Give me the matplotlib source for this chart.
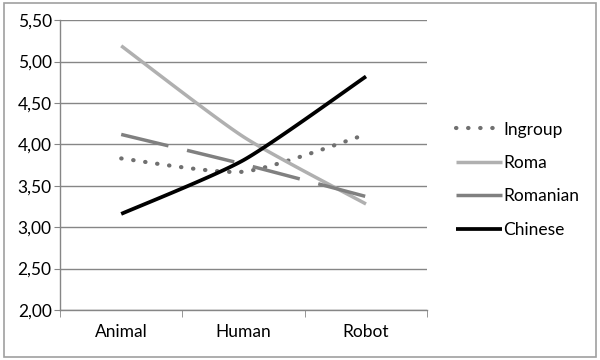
import numpy as np
import matplotlib.pyplot as plt
from matplotlib.patches import Rectangle

plt.rcParams['font.family'] = ['Lato', 'DejaVu Sans']

categories = ['Animal', 'Human', 'Robot']
ingroup = [3.83, 3.67, 4.12]
roma = [5.19, 4.09, 3.28]
romanian = [4.12, 3.76, 3.37]
chinese = [3.16, 3.81, 4.82]
yticks = [2.0, 2.5, 3.0, 3.5, 4.0, 4.5, 5.0, 5.5]


def smooth(xs, ys, n=40, k=9):
    # Excel-like smoothing: cubic bezier with catmull-rom style control points
    p = np.column_stack([xs, ys]).astype(float)
    ext = np.vstack([p[0], p, p[-1]])
    out = []
    t = np.linspace(0, 1, n)[:, None]
    for i in range(len(p) - 1):
        p0, p1, p2, p3 = ext[i], ext[i + 1], ext[i + 2], ext[i + 3]
        c1 = p1 + (p2 - p0) / k
        c2 = p2 - (p3 - p1) / k
        seg = ((1 - t) ** 3) * p1 + 3 * ((1 - t) ** 2) * t * c1 + 3 * (1 - t) * t ** 2 * c2 + t ** 3 * p2
        out.append(seg)
    pts = np.vstack(out)
    return pts[:, 0], pts[:, 1]


fig = plt.figure(figsize=(6, 3.6), dpi=100)
fig.patch.set_facecolor('white')
fig.patches.append(Rectangle((0.006, 0.008), 0.988, 0.984, transform=fig.transFigure,
                             fill=False, edgecolor='#a0a0a0', linewidth=1.2))

ax = fig.add_axes([0.1, 0.139, 0.612, 0.805])
x = np.arange(len(categories))

series = [
    ('Ingroup', ingroup, dict(color='#707070', linewidth=3, dashes=(0.1, 2.8), dash_capstyle='round')),
    ('Roma', roma, dict(color='#b0b0b0', linewidth=2.5, solid_capstyle='butt')),
    ('Romanian', romanian, dict(color='#808080', linewidth=2.5, dashes=(14, 5.5), dash_capstyle='butt')),
    ('Chinese', chinese, dict(color='black', linewidth=2.7, solid_capstyle='butt')),
]
for name, vals, style in series:
    sx, sy = smooth(x, vals)
    ax.plot(sx, sy, label=name, **style)

ax.set_xlim(-0.5, 2.5)
ax.set_ylim(2.0, 5.5)
ax.set_yticks(yticks)
ax.set_yticklabels([f'{v:.2f}'.replace('.', ',') for v in yticks], fontsize=12.5)
ax.set_xticks(x)
ax.set_xticklabels(categories, fontsize=12.5)
ax.set_xticks([-0.5, 0.5, 1.5, 2.5], minor=True)
ax.tick_params(axis='x', which='major', length=0, pad=10)
ax.tick_params(axis='x', which='minor', length=5, color='#868686', direction='out')
ax.tick_params(axis='y', length=4, color='#868686', pad=2)
ax.yaxis.grid(True, color='#868686', linewidth=1)
ax.set_axisbelow(True)
for s in ['top', 'right']:
    ax.spines[s].set_visible(False)
for s in ['left', 'bottom']:
    ax.spines[s].set_color('#868686')
    ax.spines[s].set_linewidth(1)

ax.legend(loc='center left', bbox_to_anchor=(1.035, 0.45), frameon=False, fontsize=12.5,
          handlelength=2.65, handletextpad=0.1, labelspacing=1.0)

fig.savefig('out.png', dpi=100)
